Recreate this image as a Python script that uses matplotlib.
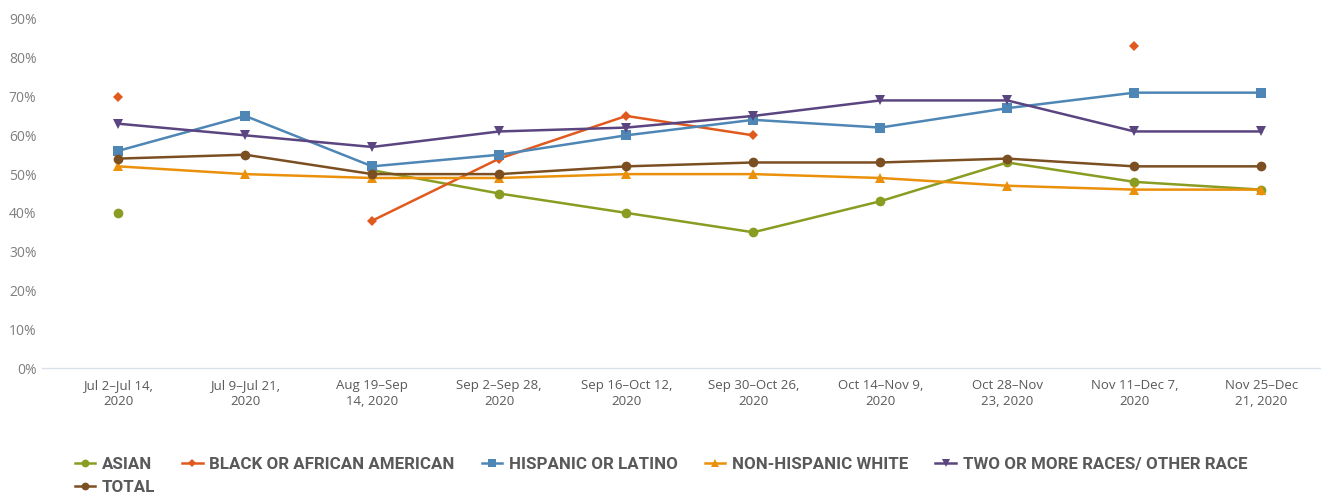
import numpy as np
import matplotlib
matplotlib.use("Agg")
import matplotlib.pyplot as plt
from matplotlib.ticker import PercentFormatter

categories = ["Jul 2\u2013Jul 14,\n2020", "Jul 9\u2013Jul 21,\n2020", "Aug 19\u2013Sep\n14, 2020",
              "Sep 2\u2013Sep 28,\n2020", "Sep 16\u2013Oct 12,\n2020", "Sep 30\u2013Oct 26,\n2020",
              "Oct 14\u2013Nov 9,\n2020", "Oct 28\u2013Nov\n23, 2020", "Nov 11\u2013Dec 7,\n2020",
              "Nov 25\u2013Dec\n21, 2020"]
nan = np.nan
asian = [40, nan, 51, 45, 40, 35, 43, 53, 48, 46]
black = [70, nan, 38, 54, 65, 60, nan, nan, 83, nan]
hispanic = [56, 65, 52, 55, 60, 64, 62, 67, 71, 71]
nh_white = [52, 50, 49, 49, 50, 50, 49, 47, 46, 46]
two_more = [63, 60, 57, 61, 62, 65, 69, 69, 61, 61]
total = [54, 55, 50, 50, 52, 53, 53, 54, 52, 52]

series = [
    ("ASIAN", asian, "#8A9C22", "o", 7),
    ("BLACK OR AFRICAN AMERICAN", black, "#E05A1E", "D", 4.8),
    ("HISPANIC OR LATINO", hispanic, "#4E86B5", "s", 6.8),
    ("NON-HISPANIC WHITE", nh_white, "#EB900A", "^", 7),
    ("TWO OR MORE RACES/ OTHER RACE", two_more, "#5B4580", "v", 7),
    ("TOTAL", total, "#7B4F22", "o", 7),
]

fig = plt.figure(figsize=(13.21, 4.93), dpi=100)
ax = fig.add_axes([0.0318, 0.2535, 0.9682, 0.708])
x = np.arange(len(categories))
handles = {}
for name, vals, col, mk, ms in series:
    h, = ax.plot(x, np.array(vals, dtype=float) / 100.0, color=col, marker=mk, markersize=ms,
                 linewidth=1.8, label=name, markeredgewidth=0)
    handles[name] = h

ax.set_ylim(0, 0.9)
ax.set_xlim(-0.6, 9.47)
ax.set_yticks(np.arange(0, 0.91, 0.1))
ax.yaxis.set_major_formatter(PercentFormatter(1.0, decimals=0))
ax.set_xticks(x)
ax.set_xticklabels(categories, fontsize=9.5, color="#595959", family="Open Sans",
                   linespacing=1.3)
for lab in ax.get_yticklabels():
    lab.set_color("#7F7F7F")
    lab.set_fontsize(10)
    lab.set_family("Open Sans")
for s in ["top", "right", "left"]:
    ax.spines[s].set_visible(False)
ax.spines["bottom"].set_color("#D9E1EA")
ax.spines["bottom"].set_linewidth(1)
ax.tick_params(axis="both", length=0)
ax.tick_params(axis="y", pad=4)
ax.tick_params(axis="x", pad=8)

order = ["ASIAN", "TOTAL", "BLACK OR AFRICAN AMERICAN", "HISPANIC OR LATINO",
         "NON-HISPANIC WHITE", "TWO OR MORE RACES/ OTHER RACE"]
leg = fig.legend([handles[n] for n in order], order, loc="lower left",
                 bbox_to_anchor=(0.045, -0.034), ncol=5, frameon=False,
                 prop={"family": "Roboto", "weight": "bold", "size": 12.2},
                 handlelength=1.2, columnspacing=1.6, handletextpad=0.4, labelspacing=0.45,
                 markerscale=0.8)
for t in leg.get_texts():
    t.set_color("#595959")

fig.savefig("out.png", dpi=100)
